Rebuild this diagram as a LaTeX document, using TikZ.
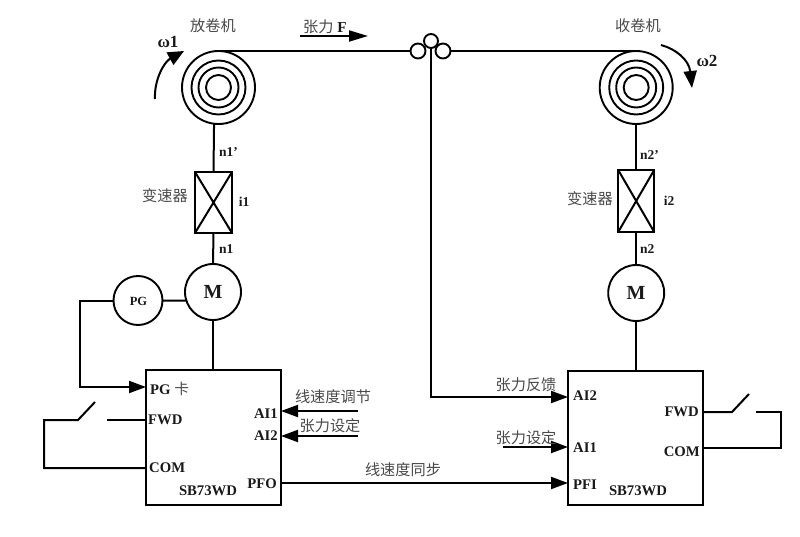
\documentclass[tikz,border=0pt]{standalone}
\usepackage{fontspec}
\setmainfont{Liberation Serif}
\newfontfamily\cjk{Noto Sans CJK SC}
\usetikzlibrary{arrows.meta,calc}
\definecolor{cjkgray}{HTML}{4A4A4A}
\definecolor{inkdark}{HTML}{1A1A1A}
\tikzset{
  wire/.style={line width=2pt,color=black},
  tipped/.style={wire,-{Triangle[length=17pt,width=12pt]}},
  ring/.style={circle,draw=black,line width=1.9pt,inner sep=0pt,outer sep=0pt,minimum size=#1},
  box/.style={rectangle,draw=black,line width=2pt,inner sep=0pt,outer sep=0pt},
  zh/.style={inner sep=0pt,text=cjkgray,font=\cjk\fontsize{15.2}{16}\selectfont},
  lab/.style={inner sep=0pt,text=inkdark,font=\bfseries\fontsize{14.7}{15}\selectfont},
  small/.style={inner sep=0pt,text=inkdark,font=\bfseries\fontsize{13.5}{14}\selectfont},
}
\begin{document}
\begin{tikzpicture}[x=1pt,y=-1pt]
\useasboundingbox[fill=white] (0,0) rectangle (800,537);

% rolls
\foreach \n/\d in {a/73,b/54,c/40,d/25}{
  \node[ring=\d pt] (roll1\n) at (218.5,87.5) {};
  \node[ring=\d pt] (roll2\n) at (636.2,87.5) {};
}
% tension rollers
\node[ring=15pt] (rl) at (418,51) {};
\node[ring=14pt] (rt) at (431,41) {};
\node[ring=15pt] (rr) at (443,51) {};

% gearboxes
\node[box,minimum width=37pt,minimum height=61pt] (g1) at (213.5,202.5) {};
\node[box,minimum width=36pt,minimum height=62pt] (g2) at (636.2,201) {};
\draw[wire] (g1.north west) -- (g1.south east) (g1.north east) -- (g1.south west);
\draw[wire] (g2.north west) -- (g2.south east) (g2.north east) -- (g2.south west);

% motors, encoder
\node[ring=56pt] (m1) at (213,292) {};
\node[ring=56pt] (m2) at (636.2,293) {};
\node[ring=49pt] (pg) at (138,300.5) {};
\node[inner sep=0pt,text=inkdark,font=\bfseries\fontsize{20}{20}\selectfont] (m1t) at (213,292) {M};
\node[inner sep=0pt,text=inkdark,font=\bfseries\fontsize{20}{20}\selectfont] (m2t) at (636,293) {M};
\node[inner sep=0pt,text=inkdark,font=\bfseries\fontsize{12.5}{13}\selectfont] (pgt) at (138.5,301) {PG};

% drives
\node[box,minimum width=135pt,minimum height=134.5pt] (d1) at (213.5,437.7) {};
\node[box,minimum width=135pt,minimum height=134pt] (d2) at (635.5,438) {};

% web and shafts
\draw[wire] (roll1a.north) -- (rl.west);
\draw[wire] (rr.east) -- (roll2a.north);
\draw[wire] (roll1a.263) -- (g1.north);
\draw[wire] (g1.south) -- (m1.north);
\draw[wire] (m1.south) -- (d1.north -| m1.south);
\draw[wire] (roll2a.south) -- (g2.north);
\draw[wire] (g2.south) -- (m2.north);
\draw[wire] (m2.south) -- (d2.north -| m2.south);
\draw[wire] (pg.east) -- (m1.198);

% free-end coordinates
\coordinate (pgcorner) at (80,300.5);
\coordinate (pgcorner2) at (80,387);
\coordinate (pgin) at (146,387);
\coordinate (sw1a) at (146,420);
\coordinate (sw1b) at (107,420);
\coordinate (sw1c) at (95,402);
\coordinate (sw1d) at (78,420);
\coordinate (sw1e) at (44,420);
\coordinate (com1a) at (44,468);
\coordinate (com1b) at (146,468);
\coordinate (ai1s) at (358,411);
\coordinate (ai1e) at (281,411);
\coordinate (ai2s) at (358,436);
\coordinate (ai2e) at (281,436);
\coordinate (pfo) at (281,483);
\coordinate (pfi) at (568,483);
\coordinate (fb) at (431,397);
\coordinate (fbe) at (568,397);
\coordinate (set) at (503,447);
\coordinate (sete) at (568,447);
\coordinate (sw2a) at (703,412);
\coordinate (sw2b) at (732,412);
\coordinate (sw2c) at (749,394);
\coordinate (sw2d) at (756,412);
\coordinate (sw2e) at (781,412);
\coordinate (com2a) at (781,447.5);
\coordinate (com2b) at (703,447.5);

\draw[tipped] (pg.west) -- (pgcorner) -- (pgcorner2) -- (pgin);
\draw[wire] (sw1a) -- (sw1b);
\draw[wire] (sw1c) -- (sw1d) -- (sw1e) -- (com1a) -- (com1b);
\draw[tipped] (ai1s) -- (ai1e);
\draw[tipped] (ai2s) -- (ai2e);
\draw[tipped] (pfo) -- (pfi);
\draw[tipped] (rt.south) -- (fb) -- (fbe);
\draw[tipped] (set) -- (sete);
\draw[wire] (sw2a) -- (sw2b) -- (sw2c);
\draw[wire] (sw2d) -- (sw2e) -- (com2a) -- (com2b);

% motion arrows
\coordinate (f1) at (300,36);
\coordinate (f2) at (368,36);
\draw[wire,-{Triangle[length=19pt,width=11pt]}] (f1) -- (f2);
\coordinate (w1s) at (155,99);
\coordinate (w1e) at (184,51);
\draw[wire,-{Triangle[length=16pt,width=14pt]}] (w1s) .. controls (154,80) and (164,62) .. (w1e);
\coordinate (w2s) at (661,45);
\coordinate (w2e) at (692,88);
\draw[wire,-{Triangle[length=17pt,width=13pt]}] (w2s) .. controls (676,49) and (689,60) .. (w2e);

% texts
\node[zh] (t1) at (213,26) {放卷机};
\node[zh] (t2) at (638,26) {收卷机};
\node[inner sep=0pt,anchor=west] (t3) at (303,27) {\cjk\color{cjkgray}\fontsize{15.2}{16}\selectfont 张力\rmfamily\bfseries\color{inkdark}\ F};
\node[inner sep=0pt,text=inkdark,font=\bfseries\fontsize{17}{17}\selectfont] (w1) at (168,41.5) {ω1};
\node[inner sep=0pt,text=inkdark,font=\bfseries\fontsize{17}{17}\selectfont] (w2) at (707,61) {ω2};
\node[small,anchor=west] (n1p) at (219,152.5) {n1'};
\node[small,anchor=west] (n2p) at (640,155) {n2'};
\node[small] (i1) at (244,202) {i1};
\node[small] (i2) at (669,201) {i2};
\node[small,anchor=west] (n1) at (219,249) {n1};
\node[small,anchor=west] (n2) at (640,249) {n2};
\node[zh] (v1) at (165,196) {变速器};
\node[zh] (v2) at (590,199) {变速器};

\node[inner sep=0pt,anchor=west,font=\bfseries\fontsize{14.7}{15}\selectfont,text=inkdark] (pgk) at (150,389) {PG {\cjk\mdseries\color{cjkgray}卡}};
\node[lab,anchor=west] (l1) at (148,420) {FWD};
\node[lab,anchor=west] (l2) at (149,467.5) {COM};
\node[lab,anchor=east] (l3) at (278,414) {AI1};
\node[lab,anchor=east] (l4) at (278,436) {AI2};
\node[lab,anchor=east] (l5) at (277,484) {PFO};
\node[lab] (l6) at (208,491) {SB73WD};
\node[zh] (z1) at (333,397) {线速度调节};
\node[zh] (z2) at (330,426) {张力设定};
\node[zh] (z3) at (403,470) {线速度同步};
\node[zh] (z4) at (526,385) {张力反馈};
\node[zh] (z5) at (526,438) {张力设定};
\node[lab,anchor=west] (r1) at (573,396) {AI2};
\node[lab,anchor=west] (r2) at (573,448) {AI1};
\node[lab,anchor=west] (r3) at (573,485) {PFI};
\node[lab] (r4) at (638,491) {SB73WD};
\node[lab,anchor=east] (r5) at (699,412) {FWD};
\node[lab,anchor=east] (r6) at (700,452) {COM};
\end{tikzpicture}
\end{document}
